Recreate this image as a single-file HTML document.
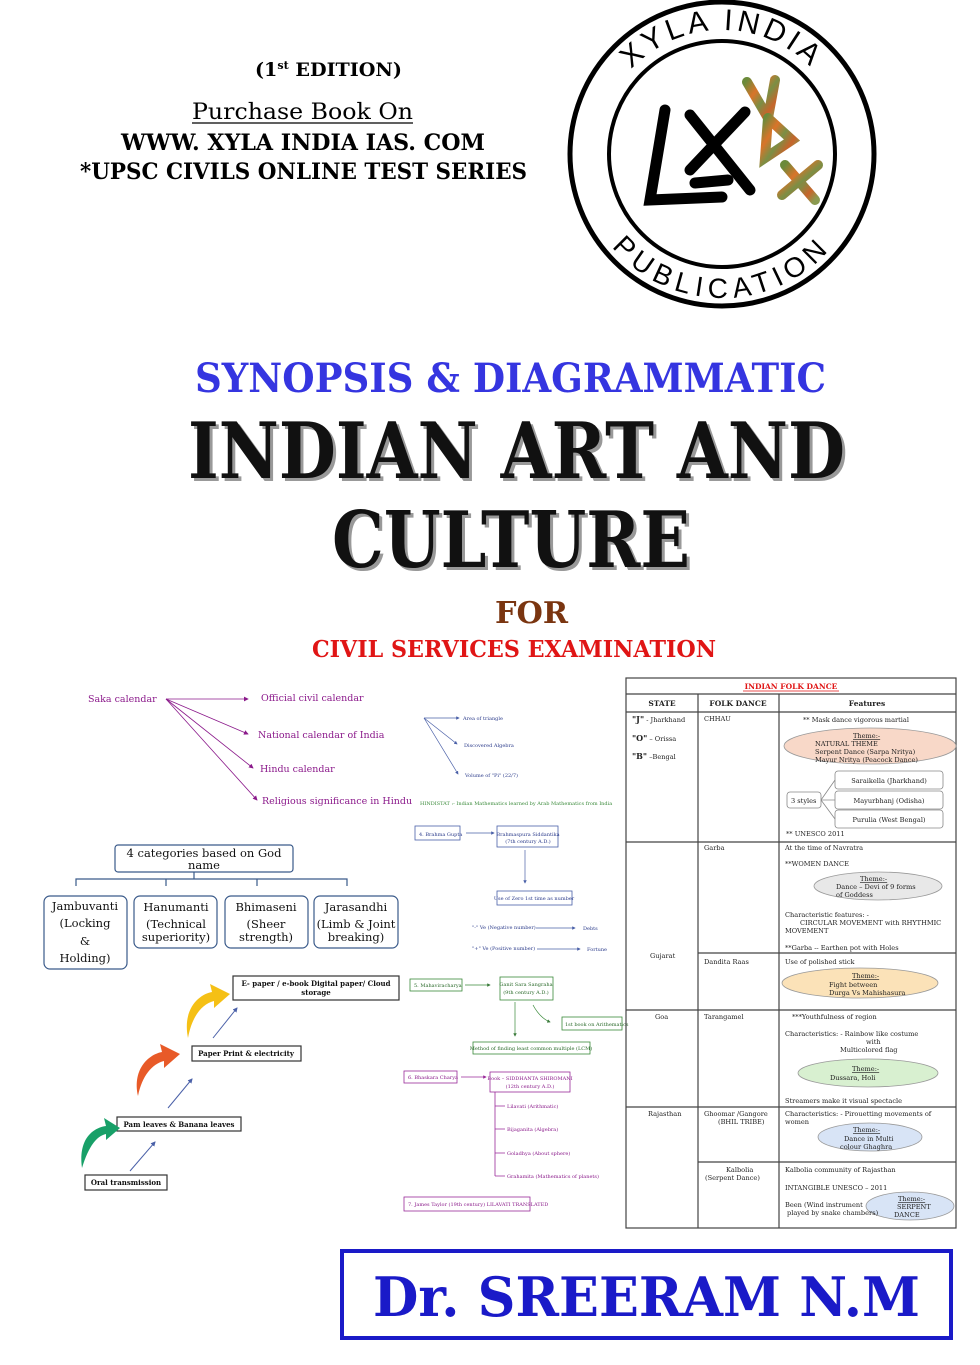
<!DOCTYPE html>
<html><head><meta charset="utf-8"><style>
html,body{margin:0;padding:0;background:#fff;}
svg{display:block;}
text{font-family:"DejaVu Serif","Liberation Serif",serif;}
.s{font-size:5px;}
.t{font-size:6.6px;fill:#222;}
</style></head><body>
<svg width="980" height="1365" viewBox="0 0 980 1365" xmlns="http://www.w3.org/2000/svg">
<defs>
<marker id="ap" markerWidth="6" markerHeight="6" refX="5" refY="3" orient="auto"><path d="M0,0 L6,3 L0,6z" fill="#8b1a8b"/></marker>
<marker id="ab" markerWidth="5" markerHeight="5" refX="4" refY="2.5" orient="auto"><path d="M0,0 L5,2.5 L0,5z" fill="#4a60a8"/></marker>
<marker id="ag" markerWidth="5" markerHeight="5" refX="4" refY="2.5" orient="auto"><path d="M0,0 L5,2.5 L0,5z" fill="#3a7a3a"/></marker>
<marker id="am" markerWidth="5" markerHeight="5" refX="4" refY="2.5" orient="auto"><path d="M0,0 L5,2.5 L0,5z" fill="#9a2a9a"/></marker>
<path id="topArc" d="M598,154 A124,124 0 0 1 846,154"/>
<path id="botArc" d="M578,154 A144,144 0 0 0 866,154"/>
<linearGradient id="camo" x1="0" y1="0" x2="1" y2="1"><stop offset="0" stop-color="#6b8a3a"/><stop offset="0.3" stop-color="#d9742a"/><stop offset="0.55" stop-color="#7a8f45"/><stop offset="0.8" stop-color="#c8642a"/><stop offset="1" stop-color="#8a9a50"/></linearGradient>
</defs>

<!-- header text -->
<text x="255" y="76" font-size="19" font-weight="bold" textLength="147" lengthAdjust="spacingAndGlyphs">(1<tspan font-size="11" dy="-7">st</tspan><tspan dy="7"> EDITION)</tspan></text>
<text x="192" y="119" font-size="22" textLength="221" lengthAdjust="spacingAndGlyphs">Purchase  Book  On</text>
<line x1="192" y1="123" x2="413" y2="123" stroke="#000" stroke-width="1.2"/>
<text x="121" y="150" font-size="22" font-weight="bold" textLength="364" lengthAdjust="spacingAndGlyphs">WWW. XYLA INDIA IAS. COM</text>
<text x="80" y="179" font-size="22" font-weight="bold" textLength="447" lengthAdjust="spacingAndGlyphs">*UPSC CIVILS ONLINE TEST SERIES</text>

<!-- logo -->
<circle cx="722" cy="154" r="152" fill="none" stroke="#000" stroke-width="5"/>
<circle cx="722" cy="154" r="113" fill="none" stroke="#000" stroke-width="4"/>
<text font-size="30" style="font-family:'Liberation Sans',sans-serif" letter-spacing="4"><textPath href="#topArc" startOffset="50%" text-anchor="middle">XYLA INDIA</textPath></text>
<text font-size="28" style="font-family:'Liberation Sans',sans-serif" letter-spacing="6"><textPath href="#botArc" startOffset="50%" text-anchor="middle">PUBLICATION</textPath></text>
<g stroke="#000" stroke-width="11" stroke-linecap="round" fill="none">
<path d="M665,110 L650,200 L722,197"/>
<path d="M690,115 L750,190"/>
<path d="M745,112 L690,170"/>
<path d="M695,183 L728,180"/>
</g>
<g stroke="url(#camo)" stroke-width="10" stroke-linecap="round" fill="none">
<path d="M747,82 L768,118 L775,80"/>
<path d="M768,118 L765,158 L792,140 L770,120"/>
<path d="M785,165 L815,200"/>
<path d="M818,165 L782,195"/>
</g>

<!-- titles -->
<text x="195" y="392" font-size="40" font-weight="bold" fill="#3535e0" textLength="631" lengthAdjust="spacingAndGlyphs">SYNOPSIS &amp; DIAGRAMMATIC</text>
<text x="191" y="481" font-size="78" font-weight="bold" fill="#999" textLength="657" lengthAdjust="spacingAndGlyphs">INDIAN ART AND</text>
<text x="188" y="478" font-size="78" font-weight="bold" fill="#111" textLength="657" lengthAdjust="spacingAndGlyphs">INDIAN ART AND</text>
<text x="335" y="570" font-size="78" font-weight="bold" fill="#999" textLength="358" lengthAdjust="spacingAndGlyphs">CULTURE</text>
<text x="332" y="567" font-size="78" font-weight="bold" fill="#111" textLength="358" lengthAdjust="spacingAndGlyphs">CULTURE</text>
<text x="495" y="623" font-size="30" font-weight="bold" fill="#7a3510" textLength="73" lengthAdjust="spacingAndGlyphs">FOR</text>
<text x="312" y="657" font-size="23" font-weight="bold" fill="#e01515" textLength="404" lengthAdjust="spacingAndGlyphs">CIVIL SERVICES EXAMINATION</text>

<!-- Saka calendar -->
<g fill="#8b1a8b" font-size="9.5">
<text x="88" y="702">Saka calendar</text>
<text x="261" y="701">Official civil calendar</text>
<text x="258" y="738">National calendar of India</text>
<text x="260" y="772">Hindu calendar</text>
<text x="262" y="804">Religious significance in Hindu</text>
</g>
<g stroke="#8b1a8b" stroke-width="0.8" marker-end="url(#ap)">
<line x1="166" y1="699" x2="248" y2="699"/>
<line x1="166" y1="699" x2="248" y2="734"/>
<line x1="166" y1="699" x2="253" y2="768"/>
<line x1="166" y1="699" x2="257" y2="800"/>
</g>

<!-- 4 categories -->
<g stroke="#3a5a8a" stroke-width="1.2" fill="#fff">
<rect x="115" y="845" width="178" height="27" rx="3"/>
<path d="M194,872 V879 M76,886 V879 H347 V886 M166,879 V886 M257,879 V886" fill="none"/>
<rect x="44" y="896" width="83" height="73" rx="6"/>
<rect x="134" y="896" width="83" height="52" rx="6"/>
<rect x="225" y="896" width="83" height="52" rx="6"/>
<rect x="314" y="896" width="84" height="52" rx="6"/>
</g>
<g font-size="11.5" fill="#111" text-anchor="middle">
<text x="204" y="857">4 categories based on God</text>
<text x="204" y="869">name</text>
<text x="85" y="910">Jambuvanti</text><text x="85" y="927">(Locking</text><text x="85" y="945">&amp;</text><text x="85" y="962">Holding)</text>
<text x="176" y="911">Hanumanti</text><text x="176" y="928">(Technical</text><text x="176" y="941">superiority)</text>
<text x="266" y="911">Bhimaseni</text><text x="266" y="928">(Sheer</text><text x="266" y="941">strength)</text>
<text x="356" y="911">Jarasandhi</text><text x="356" y="928">(Limb &amp; Joint</text><text x="356" y="941">breaking)</text>
</g>

<!-- steps -->
<g stroke="#333" stroke-width="1.2" fill="#fff">
<rect x="233" y="976" width="166" height="24"/>
<rect x="192" y="1046" width="109" height="15"/>
<rect x="117" y="1117" width="124" height="14"/>
<rect x="85" y="1175" width="82" height="15"/>
</g>
<g font-size="7" font-weight="bold" fill="#111" text-anchor="middle">
<text x="316" y="986">E- paper / e-book Digital paper/ Cloud</text>
<text x="316" y="995">storage</text>
<text x="246" y="1056">Paper  Print &amp; electricity</text>
<text x="179" y="1127">Pam leaves &amp; Banana leaves</text>
<text x="126" y="1185">Oral transmission</text>
</g>
<g stroke="#4a60a8" stroke-width="1" marker-end="url(#ab)">
<line x1="130" y1="1171" x2="155" y2="1142"/>
<line x1="168" y1="1108" x2="192" y2="1079"/>
<line x1="213" y1="1038" x2="237" y2="1008"/>
</g>
<path d="M82,1168 C78,1140 92,1128 106,1126 L104,1118 L120,1128 L106,1140 L106,1134 C96,1136 88,1148 82,1168z" fill="#18a068"/>
<path d="M138,1096 C132,1068 150,1054 162,1052 L160,1044 L180,1054 L164,1068 L164,1061 C152,1064 142,1076 138,1096z" fill="#e85a28"/>
<path d="M188,1038 C182,1008 200,994 212,992 L210,984 L230,994 L214,1008 L214,1001 C202,1004 192,1016 188,1038z" fill="#f5c015"/>

<!-- middle diagram -->
<g stroke="#4a60a8" stroke-width="0.7" marker-end="url(#ab)">
<line x1="424" y1="718" x2="459" y2="718"/>
<line x1="424" y1="718" x2="457" y2="744"/>
<line x1="424" y1="718" x2="458" y2="774"/>
<line x1="466" y1="833" x2="494" y2="833"/>
<line x1="525" y1="850" x2="525" y2="883"/>
<line x1="536" y1="928" x2="575" y2="928"/>
<line x1="537" y1="949" x2="580" y2="949"/>
</g>
<g fill="#2a3a8a" class="s">
<text x="463" y="720">Area of triangle</text>
<text x="464" y="747">Discovered Algebra</text>
<text x="465" y="777">Volume of "Pi" (22/7)</text>
<text x="419" y="836">4. Brahma Gupta</text>
<text x="528" y="836" text-anchor="middle">Brahmaspura Siddantika</text>
<text x="528" y="843" text-anchor="middle">(7th century A.D.)</text>
<text x="534" y="900" text-anchor="middle">Use of Zero 1st time as number</text>
<text x="472" y="929">"-" Ve (Negative number)</text>
<text x="472" y="950">"+" Ve (Positive number)</text>
<text x="583" y="930">Debts</text>
<text x="587" y="951">Fortune</text>
</g>
<text x="420" y="805" class="s" fill="#3a8a3a">HINDISTAT :- Indian Mathematics learned by Arab Mathematics from India</text>
<g fill="none" stroke="#4a60a8" stroke-width="0.8">
<rect x="415" y="826" width="45" height="14"/>
<rect x="497" y="826" width="61" height="21"/>
<rect x="497" y="891" width="75" height="14"/>
</g>
<g fill="none" stroke="#3a8a3a" stroke-width="0.8">
<rect x="410" y="979" width="52" height="12"/>
<rect x="500" y="977" width="53" height="23"/>
<rect x="562" y="1017" width="60" height="13"/>
<rect x="473" y="1042" width="117" height="12"/>
</g>
<g stroke="#3a8a3a" stroke-width="0.7" marker-end="url(#ag)" fill="none">
<line x1="465" y1="985" x2="490" y2="985"/>
<line x1="515" y1="1002" x2="515" y2="1036"/>
<path d="M533,1005 Q540,1018 550,1022"/>
</g>
<g fill="#2a6a2a" class="s">
<text x="414" y="987">5. Mahaviracharya</text>
<text x="526" y="986" text-anchor="middle">Ganit Sara Sangraha</text>
<text x="526" y="994" text-anchor="middle">(9th century A.D.)</text>
<text x="565" y="1026">1st book on Arithematics</text>
<text x="531" y="1050" text-anchor="middle">Method of finding  least common multiple (LCM)</text>
</g>
<g fill="none" stroke="#9a2a9a" stroke-width="0.8">
<rect x="404" y="1071" width="53" height="12"/>
<rect x="490" y="1072" width="80" height="20"/>
<rect x="404" y="1197" width="126" height="14"/>
<path d="M495,1092 V1176 M495,1106 H505 M495,1129 H505 M495,1153 H505 M495,1176 H505"/>
</g>
<line x1="461" y1="1077" x2="486" y2="1077" stroke="#9a2a9a" stroke-width="0.7" marker-end="url(#am)"/>
<g fill="#8a1a8a" class="s">
<text x="408" y="1079">6.  Bhaskara Charya</text>
<text x="530" y="1080" text-anchor="middle">Book – SIDDHANTA SHIROMANI</text>
<text x="530" y="1088" text-anchor="middle">(12th century A.D.)</text>
<text x="507" y="1108">Lilavati (Arithmatic)</text>
<text x="507" y="1131">Bijaganita (Algebra)</text>
<text x="507" y="1155">Goladhya (About sphere)</text>
<text x="507" y="1178">Grahamita (Mathematics of planets)</text>
<text x="408" y="1206">7. James Taylor (19th century) LILAVATI TRANSLATED</text>
</g>

<!-- table -->
<g stroke="#444" stroke-width="1.2" fill="none">
<rect x="626" y="678" width="330" height="550"/>
<line x1="626" y1="694" x2="956" y2="694"/>
<line x1="626" y1="712" x2="956" y2="712"/>
<line x1="698" y1="694" x2="698" y2="1228"/>
<line x1="779" y1="694" x2="779" y2="1228"/>
<line x1="626" y1="842" x2="956" y2="842"/>
<line x1="698" y1="953" x2="956" y2="953"/>
<line x1="626" y1="1010" x2="956" y2="1010"/>
<line x1="626" y1="1107" x2="956" y2="1107"/>
<line x1="698" y1="1162" x2="956" y2="1162"/>
</g>
<text x="791" y="689" font-size="7.5" font-weight="bold" fill="#e01515" text-anchor="middle">INDIAN FOLK DANCE</text>
<line x1="743" y1="691" x2="839" y2="691" stroke="#e01515" stroke-width="0.7"/>
<g font-size="7.5" font-weight="bold" fill="#222" text-anchor="middle">
<text x="662" y="706">STATE</text><text x="738" y="706">FOLK DANCE</text><text x="867" y="706">Features</text>
</g>
<!-- clouds -->
<g stroke="#999" stroke-width="0.8">
<ellipse cx="870" cy="746" rx="86" ry="18" fill="#f8d8c8"/>
<ellipse cx="878" cy="886" rx="64" ry="14" fill="#e8e8e8"/>
<ellipse cx="860" cy="983" rx="78" ry="15" fill="#fbe2b8"/>
<ellipse cx="868" cy="1073" rx="70" ry="14" fill="#d8f0d0"/>
<ellipse cx="870" cy="1137" rx="52" ry="14" fill="#d8e4f6"/>
<ellipse cx="910" cy="1206" rx="44" ry="14" fill="#d8e4f6"/>
</g>
<g fill="#fff" stroke="#888" stroke-width="0.8">
<rect x="835" y="771" width="108" height="18" rx="3"/>
<rect x="835" y="791" width="108" height="18" rx="3"/>
<rect x="835" y="810" width="108" height="18" rx="3"/>
<rect x="787" y="792" width="34" height="16" rx="3"/>
<path d="M821,800 L835,780 M821,800 L835,800 M821,800 L835,819" fill="none"/>
</g>
<g class="t">
<text x="632" y="722"><tspan font-weight="bold" font-size="8">"J"</tspan> - Jharkhand</text>
<text x="632" y="741"><tspan font-weight="bold" font-size="8">"O"</tspan> – Orissa</text>
<text x="632" y="759"><tspan font-weight="bold" font-size="8">"B"</tspan> –Bengal</text>
<text x="704" y="721">CHHAU</text>
<text x="803" y="722">** Mask dance vigorous martial</text>
<text x="853" y="738" text-decoration="underline">Theme:-</text>
<text x="815" y="746">NATURAL THEME</text>
<text x="815" y="754">Serpent Dance (Sarpa Nritya)</text>
<text x="815" y="762">Mayur Nritya (Peacock Dance)</text>
<text x="889" y="783" text-anchor="middle">Saraikella (Jharkhand)</text>
<text x="889" y="803" text-anchor="middle">Mayurbhanj (Odisha)</text>
<text x="889" y="822" text-anchor="middle">Purulia (West Bengal)</text>
<text x="791" y="803">3 styles</text>
<text x="786" y="836">** UNESCO 2011</text>
<text x="704" y="850">Garba</text>
<text x="785" y="850">At the time of Navratra</text>
<text x="785" y="866">**WOMEN DANCE</text>
<text x="860" y="881" text-decoration="underline">Theme:-</text>
<text x="836" y="889">Dance – Devi of 9 forms</text>
<text x="836" y="897">of Goddess</text>
<text x="785" y="917">Characteristic features: -</text>
<text x="800" y="925">CIRCULAR MOVEMENT with RHYTHMIC</text>
<text x="785" y="933">MOVEMENT</text>
<text x="785" y="950">**Garba  -- Earthen pot with Holes</text>
<text x="650" y="958">Gujarat</text>
<text x="704" y="964">Dandita Raas</text>
<text x="785" y="964">Use of polished stick</text>
<text x="852" y="978" text-decoration="underline">Theme:-</text>
<text x="829" y="987">Fight between</text>
<text x="829" y="995">Durga Vs Mahishasura</text>
<text x="655" y="1019">Goa</text>
<text x="704" y="1019">Tarangamel</text>
<text x="792" y="1019">***Youthfulness of region</text>
<text x="785" y="1036">Characteristics: - Rainbow like costume</text>
<text x="866" y="1044">with</text>
<text x="840" y="1052">Multicolored flag</text>
<text x="852" y="1071" text-decoration="underline">Theme:-</text>
<text x="830" y="1080">Dussara, Holi</text>
<text x="785" y="1103">Streamers make it visual spectacle</text>
<text x="648" y="1116">Rajasthan</text>
<text x="704" y="1116">Ghoomar /Gangore</text>
<text x="718" y="1124">(BHIL TRIBE)</text>
<text x="785" y="1116">Characteristics: -  Pirouetting movements of</text>
<text x="785" y="1124">women</text>
<text x="853" y="1132" text-decoration="underline">Theme:-</text>
<text x="844" y="1141">Dance in Multi</text>
<text x="840" y="1149">colour Ghaghra</text>
<text x="726" y="1172">Kalbolia</text>
<text x="705" y="1180">(Serpent Dance)</text>
<text x="785" y="1172">Kalbolia community of Rajasthan</text>
<text x="785" y="1190">INTANGIBLE UNESCO – 2011</text>
<text x="785" y="1207">Been (Wind instrument</text>
<text x="787" y="1215">played by snake chambers)</text>
<text x="898" y="1201" text-decoration="underline">Theme:-</text>
<text x="897" y="1209">SERPENT</text>
<text x="894" y="1217">DANCE</text>
</g>

<!-- author box -->
<rect x="342" y="1251" width="609" height="87" fill="#fff" stroke="#1a1ac8" stroke-width="4"/>
<text x="373" y="1316" font-size="54" font-weight="bold" fill="#1a1ac8" textLength="547" lengthAdjust="spacingAndGlyphs">Dr. SREERAM  N.M</text>
</svg>
</body></html>
